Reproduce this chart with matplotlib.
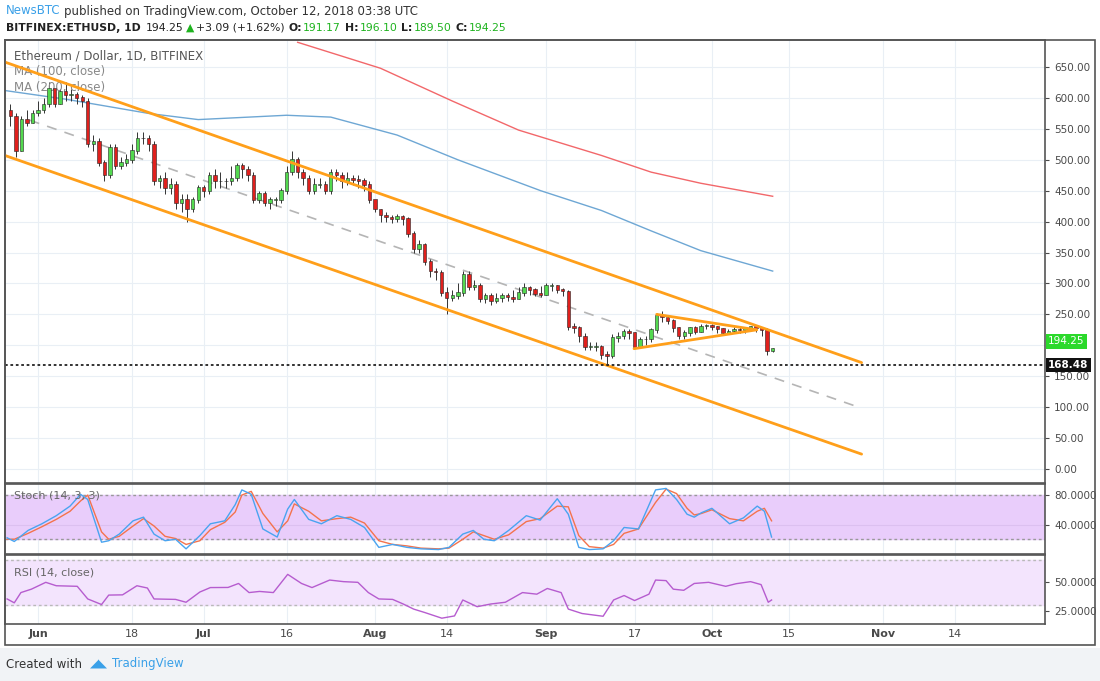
import numpy as np
import matplotlib
matplotlib.use("Agg")
import matplotlib.pyplot as plt
from matplotlib.patches import Rectangle

# daily candles, day 0 = May 27 2018, last = Oct 12 2018
closes = [570, 515, 565, 560, 575,
          580, 590, 615, 590, 610, 605, 605, 600, 595, 525, 530, 495, 475, 520, 490, 495, 500, 515, 535, 535,
          525, 465, 470, 455, 460, 430, 435, 420, 435, 455,
          450, 475, 465, 465, 465, 470, 490, 485, 475, 435, 445, 430, 435, 435, 450, 480, 500, 480, 470, 450,
          460, 460, 450, 480, 475, 465, 470, 468, 466, 460, 435,
          420, 410, 407, 405, 408, 405, 380, 355, 363, 335, 320, 318, 285, 277, 280, 285, 315, 295, 297, 275,
          280, 272, 276, 280, 278, 275, 285, 293, 290, 283, 282,
          296, 296, 290, 287, 230, 228, 215, 197, 198, 198, 185, 182, 212, 215, 222, 220, 198, 210, 210, 225,
          248, 245, 240, 228, 215, 220, 228, 222, 231, 232,
          230, 227, 220, 223, 226, 224, 227, 230, 228, 225, 191, 194.25]
highs = [590, 575, 570, 580, 580,
         595, 600, 625, 615, 615, 625, 615, 610, 605, 600, 540, 535, 500, 525, 525, 505, 510, 525, 545, 545,
         540, 530, 475, 480, 470, 465, 445, 445, 440, 460,
         460, 480, 485, 480, 470, 490, 495, 495, 490, 480, 450, 450, 440, 440, 455, 490, 515, 505, 485, 475,
         470, 470, 465, 485, 485, 480, 480, 475, 475, 470, 465,
         435, 420, 415, 410, 412, 410, 408, 385, 370, 365, 340, 325, 322, 295, 290, 300, 320, 320, 305, 300,
         285, 285, 285, 285, 285, 290, 295, 300, 296, 292, 296,
         300, 300, 298, 292, 290, 236, 232, 220, 205, 205, 200, 190, 218, 222, 226, 226, 222, 214, 215, 228,
         252, 255, 248, 242, 230, 224, 230, 232, 234, 234,
         234, 231, 228, 226, 229, 230, 229, 232, 232, 230, 228, 196.1]
lows = [555, 505, 515, 555, 560,
        570, 575, 585, 585, 595, 595, 595, 590, 585, 520, 515, 490, 465, 470, 485, 485, 490, 495, 510, 525,
        515, 460, 455, 445, 445, 420, 415, 400, 415, 430,
        440, 445, 455, 455, 455, 460, 465, 470, 465, 430, 430, 425, 420, 425, 430, 445, 475, 470, 460, 445,
        445, 455, 445, 445, 465, 455, 460, 460, 455, 450, 430,
        415, 400, 400, 398, 400, 395, 375, 350, 350, 330, 310, 305, 280, 250, 272, 275, 280, 290, 290, 270,
        268, 265, 268, 270, 272, 270, 275, 280, 282, 280, 278,
        283, 288, 284, 280, 225, 220, 205, 192, 192, 190, 178, 167, 180, 205, 210, 210, 195, 195, 200, 205,
        220, 238, 235, 222, 210, 210, 215, 218, 225, 226,
        224, 220, 216, 218, 220, 220, 220, 224, 222, 215, 185, 189.5]
first_open = 580

# moving averages (day, price)
ma100_days = [-1, 10, 25, 34, 50, 58, 70, 81, 96, 107, 116, 125, 138]
ma100_vals = [612, 598, 575, 565, 572, 569, 540, 500, 450, 418, 385, 353, 320]
ma200_days = [52, 67, 80, 92, 107, 116, 125, 138]
ma200_vals = [690, 648, 595, 548, 507, 480, 462, 441]

# trend lines (day, price)
upper_ch = ([-1, 154.1], [658, 172])
lower_ch = ([-1, 154.1], [507, 24])
mid_ch = ([3.5, 152.9], [564, 102])
tri_up = ([117, 135.1], [250, 225])
tri_lo = ([112.9, 135.1], [194.5, 225])
support = 168.48
last_price = 194.25

stoch_days = [-0.6, 0.7, 3.2, 5.7, 8.3, 10.8, 12.7, 14, 16.5, 17.8, 19.7, 22.2, 24.1, 26, 28, 29.9, 31.8,
              34.3, 36.2, 38.8, 40.7, 41.9, 43.6, 45.7, 48.3, 50.2, 51.4, 54, 56.3, 59.1, 61.6, 64.1, 66.7,
              69.2, 71.8, 74.3, 77.5, 79.4, 81.9, 83.8, 85.7, 87.6, 90.2, 93.4, 95.9, 99, 101, 102.9, 104.8,
              107.3, 109.2, 111.1, 113.7, 116.8, 118.7, 120.6, 122.5, 123.8, 125.1, 127, 130.2, 132.7, 135.2,
              136.5, 137.8]
stoch_k = [22, 17, 32, 41, 52, 65, 81, 74, 16, 18, 27, 45, 50, 27, 18, 20, 7, 25, 41, 45, 67, 87, 81, 34, 23,
           61, 74, 47, 41, 52, 47, 36, 9, 13, 9, 7, 6, 9, 27, 32, 20, 18, 32, 52, 46, 75, 54, 9, 6, 7, 18, 36,
           34, 87, 89, 74, 54, 50, 56, 62, 41, 49, 65, 58, 23]
stoch_d = [20, 20, 28, 37, 47, 58, 72, 80, 30, 20, 24, 38, 48, 38, 24, 21, 13, 18, 33, 43, 57, 80, 85, 55, 30,
           45, 68, 58, 45, 48, 50, 42, 18, 13, 11, 8, 7, 8, 20, 30, 25, 20, 26, 44, 48, 65, 64, 25, 10, 8, 13,
           28, 34, 70, 88, 82, 62, 53, 55, 60, 48, 45, 58, 62, 45]

rsi_days = [-0.6, 0.7, 1.9, 3.8, 6.4, 8.3, 12.1, 14, 16.5, 17.8, 20.3, 22.9, 24.8, 26, 29.9, 31.8, 34.3, 36.2,
            39.4, 41.3, 43.2, 45.1, 47.6, 50.2, 52.7, 54.6, 57.8, 60.3, 62.9, 64.8, 66.7, 69.2, 71.1, 73, 75,
            78.1, 80.4, 81.9, 84.5, 87, 89.6, 92.7, 95.3, 97.2, 99.7, 101, 103.5, 105.4, 107.3, 109.2, 111.1,
            113, 115.6, 116.8, 118.7, 120, 121.9, 123.8, 126.4, 129.5, 131.4, 134, 135.9, 137.2, 137.8]
rsi_vals = [35.4, 32, 41, 44, 50, 47, 46.5, 35.4, 30.5, 38.8, 39, 47, 45, 35.4, 35, 32.5, 41.5, 45.4, 45.5,
            49, 41, 42, 41, 57, 49, 45.4, 52, 50.6, 50, 41, 35.4, 35, 31, 26.5, 23.5, 18.5, 20.5, 34.5, 28.6,
            31, 32.5, 41, 39.6, 44.6, 41, 26.5, 22.6, 21.4, 20.2, 34.5, 38.4, 34, 39.6, 52, 51.5, 44, 43, 49,
            50, 46.5, 48.8, 50.6, 48, 32.5, 34.5]

tick_days = [5, 22, 35, 50, 66, 79, 97, 113, 127, 141, 158, 171]
tick_labels = ["Jun", "18", "Jul", "16", "Aug", "14", "Sep", "17", "Oct", "15", "Nov", "14"]
price_ticks = [0, 50, 100, 150, 250, 300, 350, 400, 450, 500, 550, 600, 650]
price_grid = list(range(0, 651, 50))

GRID = "#e9eff5"
GREEN = "#53d94f"
RED = "#e0201d"
TXT = "#4a4a4a"
W, H = 1100, 681

fig = plt.figure(figsize=(11, 6.81), dpi=100)
fig.patch.set_facecolor("white")
fig.patches.append(Rectangle((0, 0), 1, 1 - 648 / H, transform=fig.transFigure,
                             facecolor="#f1f3f6", edgecolor="none", zorder=0))


def box(l, t, r, b):
    return [l / W, 1 - b / H, (r - l) / W, (b - t) / H]


ax = fig.add_axes(box(5, 40, 1045, 483))
ax_s = fig.add_axes(box(5, 484, 1045, 554), sharex=ax)
ax_r = fig.add_axes(box(5, 555, 1045, 624), sharex=ax)

xlim = (-0.98, 187.3)
for a in (ax, ax_s, ax_r):
    a.set_xlim(*xlim)
    a.yaxis.tick_right()
    a.tick_params(axis="y", labelsize=7.5, colors=TXT, length=3)
    a.tick_params(axis="x", length=0)
    for sp in a.spines.values():
        sp.set_color("#555555")
        sp.set_linewidth(1.2)
    for d in tick_days:
        a.axvline(d, color=GRID, lw=0.8, zorder=0)
    a.set_facecolor("white")

# candles
days = np.arange(len(closes))
opens = np.array([first_open] + closes[:-1])
cl = np.array(closes)
hi = np.maximum(np.array(highs), np.maximum(opens, cl))
lo = np.minimum(np.array(lows), np.minimum(opens, cl))
up = cl >= opens
cols = np.where(up, GREEN, RED)
ax.vlines(days, lo, hi, color="#333333", lw=0.7, zorder=3)
ax.bar(days, np.abs(cl - opens) + 0.8, bottom=np.minimum(opens, cl), width=0.62,
       color=cols, edgecolor="#222222", linewidth=0.4, zorder=4)

ax.set_ylim(-22.7, 693.7)
ax.set_yticks(price_ticks)
ax.set_yticklabels([f"{v:.2f}" for v in price_ticks])
for v in price_grid:
    ax.axhline(v, color=GRID, lw=0.8, zorder=0)

ax.plot(ma100_days, ma100_vals, color="#6ea7d4", lw=1, zorder=2)
ax.plot(ma200_days, ma200_vals, color="#f2676a", lw=1, zorder=2)
for xs, ys in (upper_ch, lower_ch, tri_up, tri_lo):
    ax.plot(xs, ys, color="#ff9f1a", lw=2, zorder=5, solid_capstyle="round")
ax.plot(*mid_ch, color="#b5b5b5", lw=1.2, ls=(0, (6, 5)), zorder=2)
ax.axhline(support, color="#222222", lw=1.3, ls=(0, (1.5, 1.5)), zorder=5)

ax.text(1.003, support, f"{support:.2f}", transform=ax.get_yaxis_transform(), va="center", ha="left",
        fontsize=7.5, color="white", fontweight="bold",
        bbox=dict(boxstyle="square,pad=0.2", fc="#111111", ec="none"), clip_on=False)
ax.text(1.003, last_price + 12, f"{last_price:.2f}", transform=ax.get_yaxis_transform(), va="center",
        ha="left", fontsize=7.5, color="white",
        bbox=dict(boxstyle="square,pad=0.2", fc="#2bd92b", ec="none"), clip_on=False)

ax.text(0.009, 0.965, "Ethereum / Dollar, 1D, BITFINEX", transform=ax.transAxes, fontsize=8.5,
        color="#555555", va="center")
ax.text(0.009, 0.928, "MA (100, close)", transform=ax.transAxes, fontsize=8.5, color="#888888", va="center")
ax.text(0.009, 0.892, "MA (200, close)", transform=ax.transAxes, fontsize=8.5, color="#888888", va="center")
plt.setp(ax.get_xticklabels(), visible=False)

# stochastic
ax_s.set_ylim(0, 95)
ax_s.axhspan(20, 80, color="#e9cdfb", zorder=0)
for v in (20, 80):
    ax_s.axhline(v, color="#999999", lw=1, ls=(0, (2, 2)))
ax_s.axhline(40, color="#dcc0f0", lw=0.8)
ax_s.plot(stoch_days, stoch_d, color="#f4734d", lw=1)
ax_s.plot(stoch_days, stoch_k, color="#4aa4f0", lw=1)
ax_s.set_yticks([40, 80])
ax_s.set_yticklabels(["40.0000", "80.0000"])
ax_s.text(0.009, 0.8, "Stoch (14, 3, 3)", transform=ax_s.transAxes, fontsize=8, color="#666666")
plt.setp(ax_s.get_xticklabels(), visible=False)

# RSI
ax_r.set_ylim(13.4, 74)
ax_r.axhspan(30, 70, color="#f3e4fd", zorder=0)
for v in (30, 70):
    ax_r.axhline(v, color="#b9b9b9", lw=1, ls=(0, (2, 2)))
ax_r.plot(rsi_days, rsi_vals, color="#b65ccf", lw=1)
ax_r.set_yticks([25, 50])
ax_r.set_yticklabels(["25.0000", "50.0000"])
ax_r.text(0.009, 0.7, "RSI (14, close)", transform=ax_r.transAxes, fontsize=8, color="#666666")
ax_r.set_xticks(tick_days)
ax_r.set_xticklabels(tick_labels, fontsize=8, color=TXT)
for lbl in ax_r.get_xticklabels():
    if not lbl.get_text().isdigit():
        lbl.set_fontweight("bold")

# outer frame
fig.patches.append(Rectangle((5 / W, 1 - 645 / H), 1090 / W, 605 / H, transform=fig.transFigure,
                             fill=False, edgecolor="#555555", lw=1.2, zorder=10))

renderer = fig.canvas.get_renderer()


def run_text(x, y, parts, size=8.5):
    # place text pieces one after another on a line (x, y in pixels from top-left)
    for s, color, weight, gap in parts:
        t = fig.text(x / W, 1 - y / H, s, va="center", ha="left", fontsize=size, color=color,
                     fontweight=weight)
        x += t.get_window_extent(renderer).width + gap


run_text(6, 11, [("NewsBTC", "#3aa0e8", "normal", 3),
                 ("published on TradingView.com, October 12, 2018 03:38 UTC", "#333333", "normal", 0)])
run_text(6, 28, [("BITFINEX:ETHUSD, 1D", "#222222", "bold", 5),
                 ("194.25", "#222222", "normal", 2),
                 ("\u25b2", "#1fb31f", "normal", 2),
                 ("+3.09 (+1.62%)", "#222222", "normal", 4),
                 ("O:", "#222222", "bold", 1), ("191.17", "#1fb31f", "normal", 4),
                 ("H:", "#222222", "bold", 1), ("196.10", "#1fb31f", "normal", 4),
                 ("L:", "#222222", "bold", 1), ("189.50", "#1fb31f", "normal", 4),
                 ("C:", "#222222", "bold", 1), ("194.25", "#1fb31f", "normal", 0)], size=7.8)

# footer
run_text(6, 664, [("Created with", "#333333", "normal", 8),
                  ("\u25e2\u25e3", "#3aa0e8", "normal", 4),
                  ("TradingView", "#3aa0e8", "normal", 0)])

fig.savefig("out.png", dpi=100)
